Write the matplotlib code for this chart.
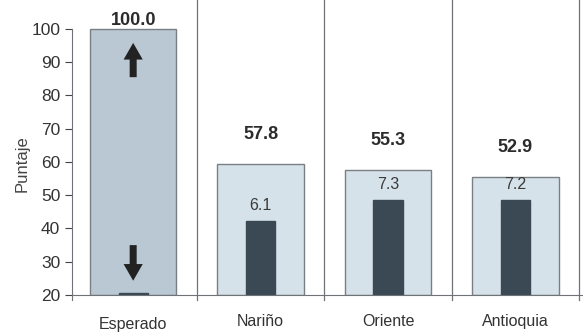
import matplotlib.pyplot as plt
import numpy as np

plt.rcParams['font.family'] = ['Liberation Sans', 'DejaVu Sans']

categorias = ["Esperado", "Nariño", "Oriente", "Antioquia"]
puntaje = [100.0, 57.8, 55.3, 52.9]          # etiquetas en negrita
altura_barra = [100.0, 59.3, 57.5, 55.4]
desviacion = ["", "6.1", "7.3", "7.2"]       # etiquetas pequenas
altura_oscura = [20.6, 42.2, 48.6, 48.6]     # barra oscura

fig = plt.figure(figsize=(5.83, 3.32), dpi=100)
ax = fig.add_axes([0.1235, 0.1114, 0.8765, 0.8886])

x = np.arange(len(categorias))
claros = ['#b9c8d3', '#d6e2ea', '#d6e2ea', '#d6e2ea']
ax.bar(x, np.array(altura_barra) - 20, bottom=20, width=0.68,
       color=claros, edgecolor='#7a7f84', linewidth=1.0, zorder=2)
ax.bar(x, np.array(altura_oscura) - 20, bottom=20, width=0.23,
       color='#3b4954', edgecolor='#3b4954', zorder=3)

for i in range(len(categorias)):
    if i == 0:
        ax.text(x[i], altura_barra[i] + 0.1, f"{puntaje[i]:.1f}", ha='center', va='bottom',
                fontsize=13, fontweight='bold', color='#2b2b2b')
    else:
        ax.text(x[i], altura_barra[i] + 6.5, f"{puntaje[i]:.1f}", ha='center', va='bottom',
                fontsize=13, fontweight='bold', color='#2b2b2b')
        ax.text(x[i], altura_oscura[i] + 2.5, desviacion[i], ha='center', va='bottom',
                fontsize=11.5, color='#3a3a3a', zorder=4)

# flechas en la barra esperada
flecha = dict(arrowstyle='simple,head_length=1.0,head_width=1.15,tail_width=0.42',
              fc='#222222', ec='none', lw=0, shrinkA=0, shrinkB=0)
ax.annotate('', xy=(0, 95.8), xytext=(0, 85.5), arrowprops=flecha,
            annotation_clip=False, fontsize=12, zorder=4)
ax.annotate('', xy=(0, 24.3), xytext=(0, 35), arrowprops=flecha,
            annotation_clip=False, fontsize=12, zorder=4)

for d in [0.5, 1.5, 2.5, 3.5]:
    ax.plot([d, d], [18.5, 110], color='#6f7378', lw=0.9, clip_on=False, zorder=1)

ax.set_xlim(-0.48, 3.53)
ax.set_ylim(20, 108.7)
ax.set_yticks(range(20, 101, 10))
ax.tick_params(axis='y', direction='out', length=5, labelsize=12.5, colors='#444444', labelcolor='#333333')
ax.set_xticks([])
for s in ['top', 'right']:
    ax.spines[s].set_visible(False)
ax.spines['left'].set_color('#6f7378')
ax.spines['bottom'].set_color('#6f7378')
ax.spines['left'].set_bounds(18.5, 100)
ax.set_ylabel("Puntaje", fontsize=12, color='#444444')
ax.yaxis.set_label_coords(-0.082, 0.447)

for i, c in enumerate(categorias):
    ax.text(x[i], 12 - (0.9 if i == 0 else 0), c, ha='center', va='center',
            fontsize=11.5, color='#333333', clip_on=False)

fig.savefig("out.png", dpi=100)
